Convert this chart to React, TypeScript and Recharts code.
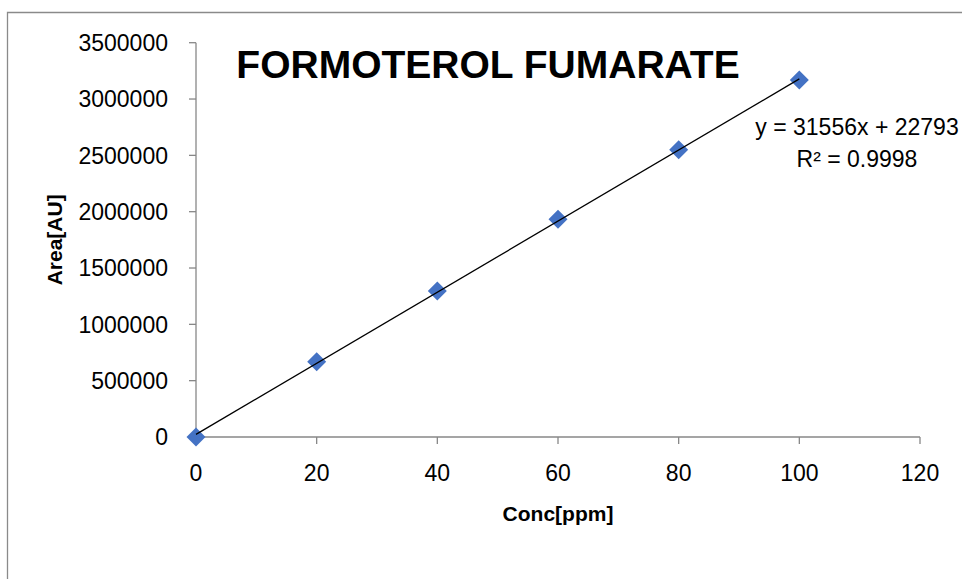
import React from "react";
import { Label, Scatter, ScatterChart, XAxis, YAxis } from "recharts";

// concentration (ppm) vs peak area
const conc = [0, 20, 40, 60, 80, 100];
const area = [0, 667000, 1296000, 1932000, 2549000, 3169000];

// trendline from the equation shown on the chart: y = 31556x + 22793
const trendX = [0, 100];
const trendY = [22793, 3178393];

const xTicks = [0, 20, 40, 60, 80, 100, 120];
const yTicks = [0, 500000, 1000000, 1500000, 2000000, 2500000, 3000000, 3500000];

const points = conc.map((x, i) => ({ x, y: area[i] }));
const trend = trendX.map((x, i) => ({ x, y: trendY[i] }));

const font = "'Liberation Sans', Arial, sans-serif";
const axisGray = "#878787";

const Diamond = (props: any) => {
  const { cx, cy } = props;
  if (cx == null || cy == null) return null;
  const r = 9.5;
  return (
    <polygon
      points={`${cx},${cy - r} ${cx + r},${cy} ${cx},${cy + r} ${cx - r},${cy}`}
      fill="#4472C4"
    />
  );
};

const NoDot = () => null;

export default function App() {
  return (
    <div style={{ position: "absolute", left: 0, top: 0, width: 962, height: 579, overflow: "hidden", background: "#fff" }}>
      <ScatterChart width={962} height={579} margin={{ top: 42.7, right: 42, bottom: 82, left: 76 }}>
        <XAxis
          type="number"
          dataKey="x"
          domain={[0, 120]}
          ticks={xTicks}
          interval={0}
          height={60}
          tickSize={7}
          tickMargin={21}
          axisLine={{ stroke: axisGray, strokeWidth: 1.3 }}
          tickLine={{ stroke: axisGray, strokeWidth: 1.3 }}
          tick={{ fill: "#000", fontSize: 23, fontFamily: font }}
        >
          <Label
            value="Conc[ppm]"
            position="bottom"
            offset={9}
            style={{ fill: "#000", fontSize: 21, fontWeight: 700, fontFamily: font }}
          />
        </XAxis>
        <YAxis
          type="number"
          dataKey="y"
          domain={[0, 3500000]}
          ticks={yTicks}
          interval={0}
          width={120}
          tickSize={7}
          tickMargin={21}
          axisLine={{ stroke: axisGray, strokeWidth: 1.3 }}
          tickLine={{ stroke: axisGray, strokeWidth: 1.3 }}
          tick={{ fill: "#000", fontSize: 23, fontFamily: font }}
        >
          <Label
            content={({ viewBox }: any) => {
              const cy = viewBox.y + viewBox.height / 2;
              return (
                <text
                  x={62}
                  y={cy}
                  transform={`rotate(-90, 62, ${cy})`}
                  textAnchor="middle"
                  style={{ fill: "#000", fontSize: 21, fontWeight: 700, fontFamily: font }}
                >
                  Area[AU]
                </text>
              );
            }}
          />
        </YAxis>
        <Scatter data={points} shape={<Diamond />} isAnimationActive={false} />
        <Scatter
          data={trend}
          line={{ stroke: "#000", strokeWidth: 1.3 }}
          shape={<NoDot />}
          isAnimationActive={false}
        />
      </ScatterChart>
      <svg
        width={962}
        height={579}
        style={{ position: "absolute", left: 0, top: 0, pointerEvents: "none" }}
      >
        <path d="M7.5 579 V12.5 H962" fill="none" stroke="#8a8a8a" strokeWidth={1.3} />
        <text x={488} y={78} textAnchor="middle" style={{ fontSize: 39, fontWeight: 700, fontFamily: font }}>
          FORMOTEROL FUMARATE
        </text>
        <text x={857} y={135} textAnchor="middle" style={{ fontSize: 23, fontFamily: font }}>
          y = 31556x + 22793
        </text>
        <text x={857} y={167} textAnchor="middle" style={{ fontSize: 23, fontFamily: font }}>
          R² = 0.9998
        </text>
      </svg>
    </div>
  );
}
